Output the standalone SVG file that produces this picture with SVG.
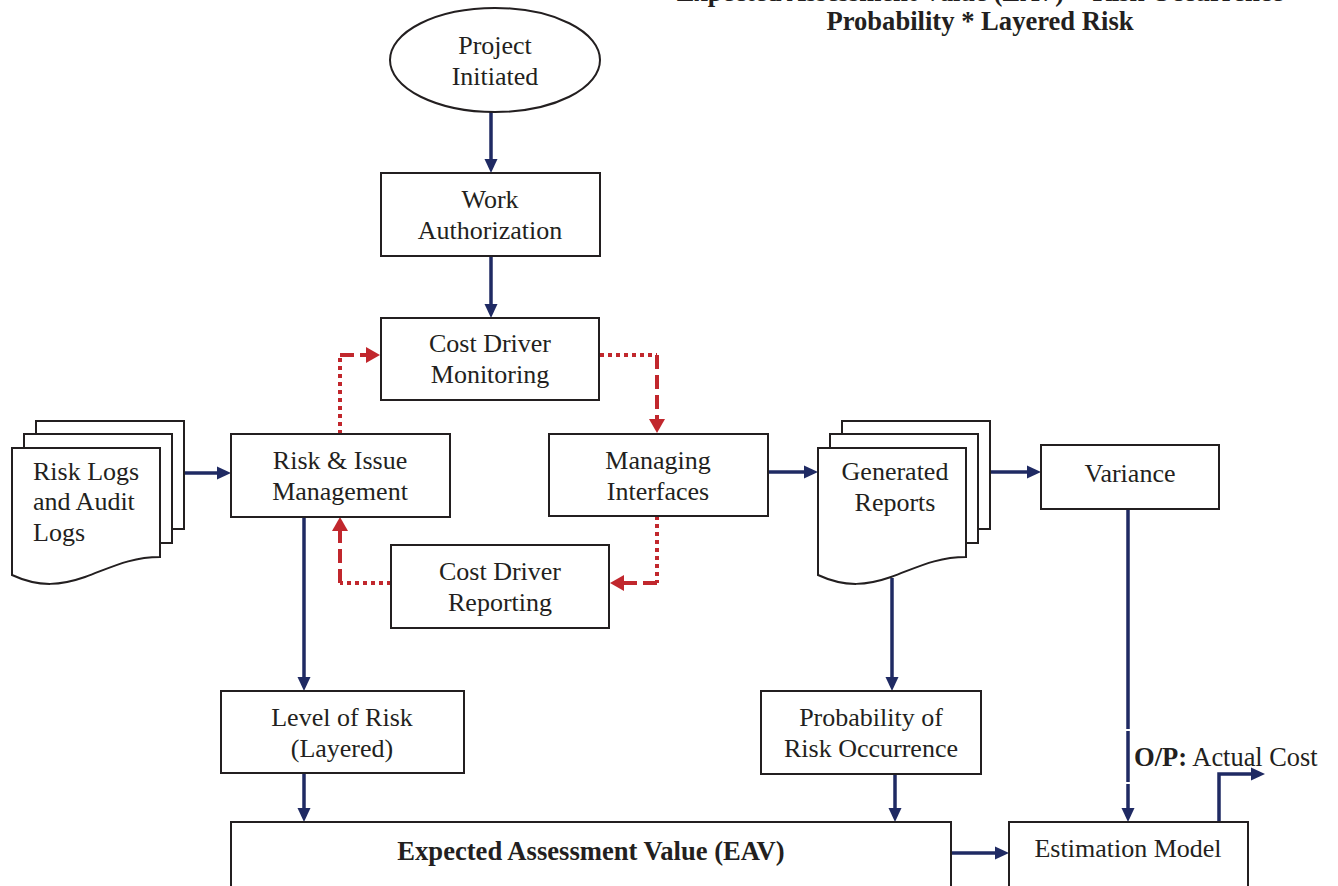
<svg xmlns="http://www.w3.org/2000/svg" width="1338" height="886" viewBox="0 0 1338 886">
<style>
.box{fill:#fff;stroke:#231f20;stroke-width:2}
.t{font-family:"Liberation Serif","Times New Roman",serif;font-size:26px;fill:#231f20;text-anchor:middle}
.tl{text-anchor:start}
.b{font-weight:bold;font-size:26.6px}
.nv{fill:none;stroke:#1f2a63;stroke-width:3.5}
.rd{fill:none;stroke:#c1272d;stroke-width:4}
.dot{stroke-dasharray:4 4}
.dash{stroke-dasharray:14 6}
</style>
<defs>
<marker id="an" markerUnits="userSpaceOnUse" markerWidth="14" markerHeight="14" viewBox="0 0 14 14" refX="2" refY="7" orient="auto">
<path d="M0,0.5 L14,7 L0,13.5 z" fill="#1f2a63"/>
</marker>
<marker id="ar" markerUnits="userSpaceOnUse" markerWidth="14" markerHeight="16" viewBox="0 0 14 16" refX="2" refY="8" orient="auto">
<path d="M0,0 L14,8 L0,16 z" fill="#c1272d"/>
</marker>
</defs>
<rect width="1338" height="886" fill="#fff"/>

<g id="formula">
<text class="t b" x="980" y="0.5">Expected Assessment Value (EAV) = Risk Occurrence</text>
<text class="t b" x="980" y="30">Probability * Layered Risk</text>
</g>

<g id="connectors">
<path class="nv" d="M491,112 V161" marker-end="url(#an)"/>
<path class="nv" d="M491,256 V306" marker-end="url(#an)"/>
<path class="nv" d="M184,473 H219" marker-end="url(#an)"/>
<path class="nv" d="M304,517 V679" marker-end="url(#an)"/>
<path class="nv" d="M304,773 V810" marker-end="url(#an)"/>
<path class="nv" d="M895,774 V810" marker-end="url(#an)"/>
<path class="nv" d="M892,578 V679" marker-end="url(#an)"/>
<path class="nv" d="M768,472 H806" marker-end="url(#an)"/>
<path class="nv" d="M991,472 H1029" marker-end="url(#an)"/>
<path class="nv" d="M1128,509 V729 M1128,731 V782 M1128,784 V810" marker-end="url(#an)"/>
<path class="nv" d="M951,853 H997" marker-end="url(#an)"/>
<path class="nv" d="M1219,822 V774 H1253" marker-end="url(#an)"/>

<path class="rd dot" d="M340,434 V355"/>
<path class="rd dash" d="M340,355 H368" marker-end="url(#ar)"/>
<path class="rd dot" d="M600,355 H657"/>
<path class="rd dash" d="M657,355 V421" marker-end="url(#ar)"/>
<path class="rd dot" d="M657,516 V583"/>
<path class="rd dash" d="M657,583 H622" marker-end="url(#ar)"/>
<path class="rd dot" d="M391,583 H340"/>
<path class="rd dash" d="M340,583 V529" marker-end="url(#ar)"/>
</g>

<g id="project-initiated">
<ellipse class="box" cx="495" cy="60" rx="105" ry="52"/>
<text class="t" x="495" y="54">Project</text>
<text class="t" x="495" y="85">Initiated</text>
</g>

<g id="work-authorization">
<rect class="box" x="381" y="173" width="219" height="83"/>
<text class="t" x="490" y="208">Work</text>
<text class="t" x="490" y="239">Authorization</text>
</g>

<g id="cost-driver-monitoring">
<rect class="box" x="381" y="318" width="218" height="82"/>
<text class="t" x="490" y="352">Cost Driver</text>
<text class="t" x="490" y="383">Monitoring</text>
</g>

<g id="risk-logs">
<path class="box" d="M36,448 V421 H184 V529 H172"/>
<path class="box" d="M24,448 V434 H172 V543 H160"/>
<path class="box" d="M12,448 H160 V557 C130,557 110,568 85,577 C62,585 40,588 12,575 Z"/>
<text class="t tl" x="33" y="480">Risk Logs</text>
<text class="t tl" x="33" y="510">and Audit</text>
<text class="t tl" x="33" y="541">Logs</text>
</g>

<g id="risk-issue-management">
<rect class="box" x="231" y="434" width="219" height="83"/>
<text class="t" x="340" y="469">Risk &amp; Issue</text>
<text class="t" x="340" y="500">Management</text>
</g>

<g id="managing-interfaces">
<rect class="box" x="549" y="434" width="219" height="82"/>
<text class="t" x="658" y="469">Managing</text>
<text class="t" x="658" y="500">Interfaces</text>
</g>

<g id="cost-driver-reporting">
<rect class="box" x="391" y="545" width="218" height="83"/>
<text class="t" x="500" y="580">Cost Driver</text>
<text class="t" x="500" y="611">Reporting</text>
</g>

<g id="generated-reports">
<path class="box" d="M842,448 V421 H990 V529 H978"/>
<path class="box" d="M830,448 V434 H978 V543 H966"/>
<path class="box" d="M818,448 H966 V557 C936,557 916,568 891,577 C868,585 846,588 818,575 Z"/>
<text class="t" x="895" y="480">Generated</text>
<text class="t" x="895" y="511">Reports</text>
</g>

<g id="variance">
<rect class="box" x="1041" y="445" width="178" height="64"/>
<text class="t" x="1130" y="482">Variance</text>
</g>

<g id="level-of-risk">
<rect class="box" x="221" y="691" width="243" height="82"/>
<text class="t" x="342" y="726">Level of Risk</text>
<text class="t" x="342" y="757">(Layered)</text>
</g>

<g id="probability">
<rect class="box" x="761" y="691" width="220" height="83"/>
<text class="t" x="871" y="726">Probability of</text>
<text class="t" x="871" y="757">Risk Occurrence</text>
</g>

<g id="eav">
<rect class="box" x="231" y="822" width="720" height="80"/>
<text class="t b" x="591" y="860">Expected Assessment Value (EAV)</text>
</g>

<g id="estimation-model">
<rect class="box" x="1009" y="822" width="239" height="80"/>
<text class="t" x="1128" y="857">Estimation Model</text>
</g>

<g id="output-label">
<text class="t tl" x="1134" y="766" style="font-size:26.4px"><tspan class="b">O/P:</tspan> Actual Cost</text>
</g>
</svg>
